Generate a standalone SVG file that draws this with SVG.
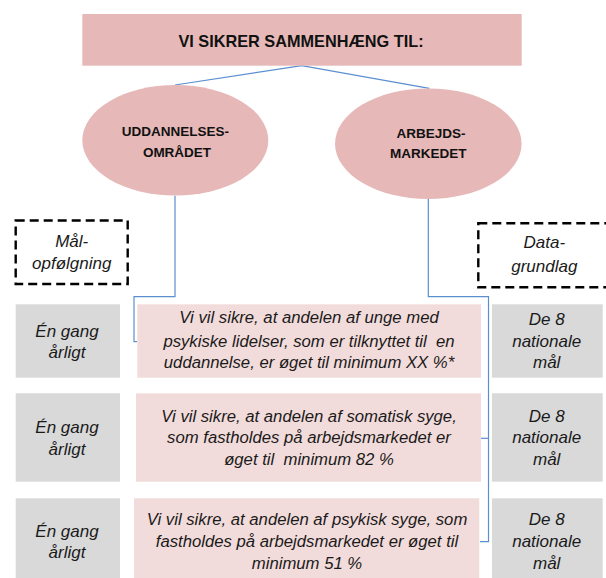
<svg xmlns="http://www.w3.org/2000/svg" width="606" height="578" viewBox="0 0 606 578">
<style>
.hdr{fill:#e6b9b8}
.goal{fill:#f2dcdb}
.gray{fill:#d9d9d9}
.dash{fill:none;stroke:#000;stroke-width:2.4;stroke-dasharray:9 5}
.bold{font-family:"Liberation Sans",Arial,sans-serif;font-weight:bold;fill:#111;text-anchor:middle}
.it{font-family:"Liberation Sans",Arial,sans-serif;font-style:italic;fill:#1a1a1a;text-anchor:middle;white-space:pre}
.conn{fill:none;stroke:#5b8fd0;stroke-width:1.2}
</style>
<rect width="606" height="578" fill="#fff"/>
<g id="connectors" class="conn">
<polyline points="175,85 301.7,65.7 429.3,88.3"/>
<polyline points="175,195.7 175,296.7 134,296.7 134,341.7 137.3,341.7"/>
<polyline points="428.3,199 428.3,296.7 488.5,296.7 488.5,541.7 480,541.7"/>
<line x1="488.5" y1="438.3" x2="481" y2="438.3"/>
</g>
<g id="title">
<rect class="hdr" x="82.3" y="14" width="439.4" height="51.7"/>
<text class="bold" x="301" y="47.3" font-size="16.3">VI SIKRER SAMMENHÆNG TIL:</text>
</g>
<g id="uddannelse">
<ellipse class="hdr" cx="175.3" cy="140.3" rx="93" ry="55.3"/>
<text class="bold" x="175.5" y="136" font-size="13.5">UDDANNELSES-</text>
<text class="bold" x="177" y="156.7" font-size="13.5">OMRÅDET</text>
</g>
<g id="arbejdsmarked">
<ellipse class="hdr" cx="428.3" cy="143.7" rx="93.3" ry="55.3"/>
<text class="bold" x="431" y="138.3" font-size="13.5">ARBEJDS-</text>
<text class="bold" x="428.3" y="158.3" font-size="13.5">MARKEDET</text>
</g>
<g id="maalopfoelgning">
<rect class="dash" x="15.7" y="220.5" width="112" height="63.5"/>
<text class="it" x="71.7" y="246.7" font-size="17">Mål-</text>
<text class="it" x="71.7" y="269.3" font-size="17">opfølgning</text>
</g>
<g id="datagrundlag">
<rect class="dash" x="478.3" y="223.3" width="140" height="64"/>
<text class="it" x="544.3" y="248.3" font-size="17">Data-</text>
<text class="it" x="544.3" y="271.7" font-size="17">grundlag</text>
</g>
<g id="freq1">
<rect class="gray" x="15.7" y="304.3" width="104.3" height="73.4"/>
<text class="it" x="67" y="336.7" font-size="17">Én gang</text>
<text class="it" x="67" y="358.3" font-size="17">årligt</text>
</g>
<g id="goal1">
<rect class="goal" x="137.3" y="304.3" width="343.7" height="73.4"/>
<text class="it" x="309" y="323.3" font-size="16.7">Vi vil sikre, at andelen af unge med</text>
<text class="it" x="309" y="346.7" font-size="16.7">psykiske lidelser, som er tilknyttet til  en</text>
<text class="it" x="309" y="368.3" font-size="16.7">uddannelse, er øget til minimum XX %*</text>
</g>
<g id="data1">
<rect class="gray" x="492" y="304.3" width="110.7" height="73.4"/>
<text class="it" x="546.7" y="325" font-size="17">De 8</text>
<text class="it" x="546.7" y="346.7" font-size="17">nationale</text>
<text class="it" x="546.7" y="368.3" font-size="17">mål</text>
</g>
<g id="freq2">
<rect class="gray" x="15.7" y="393.3" width="104.3" height="88.4"/>
<text class="it" x="67" y="433.3" font-size="17">Én gang</text>
<text class="it" x="67" y="455" font-size="17">årligt</text>
</g>
<g id="goal2">
<rect class="goal" x="136" y="393.3" width="345" height="88.4"/>
<text class="it" x="309" y="421.7" font-size="16.7">Vi vil sikre, at andelen af somatisk syge,</text>
<text class="it" x="309" y="443.3" font-size="16.7">som fastholdes på arbejdsmarkedet er</text>
<text class="it" x="309" y="465" font-size="16.7">øget til  minimum 82 %</text>
</g>
<g id="data2">
<rect class="gray" x="492" y="393.3" width="110.7" height="88.4"/>
<text class="it" x="546.7" y="421.7" font-size="17">De 8</text>
<text class="it" x="546.7" y="443.3" font-size="17">nationale</text>
<text class="it" x="546.7" y="465" font-size="17">mål</text>
</g>
<g id="freq3">
<rect class="gray" x="15.7" y="498.3" width="104.3" height="80"/>
<text class="it" x="67" y="536.7" font-size="17">Én gang</text>
<text class="it" x="67" y="558.3" font-size="17">årligt</text>
</g>
<g id="goal3">
<rect class="goal" x="134" y="498.3" width="345.3" height="80"/>
<text class="it" x="307" y="525" font-size="16.7">Vi vil sikre, at andelen af psykisk syge, som</text>
<text class="it" x="307" y="547.3" font-size="16.7">fastholdes på arbejdsmarkedet er øget til</text>
<text class="it" x="307" y="569.3" font-size="16.7">minimum 51 %</text>
</g>
<g id="data3">
<rect class="gray" x="492" y="498.3" width="110.7" height="80"/>
<text class="it" x="546.7" y="525" font-size="17">De 8</text>
<text class="it" x="546.7" y="547.3" font-size="17">nationale</text>
<text class="it" x="546.7" y="569.3" font-size="17">mål</text>
</g>
</svg>
